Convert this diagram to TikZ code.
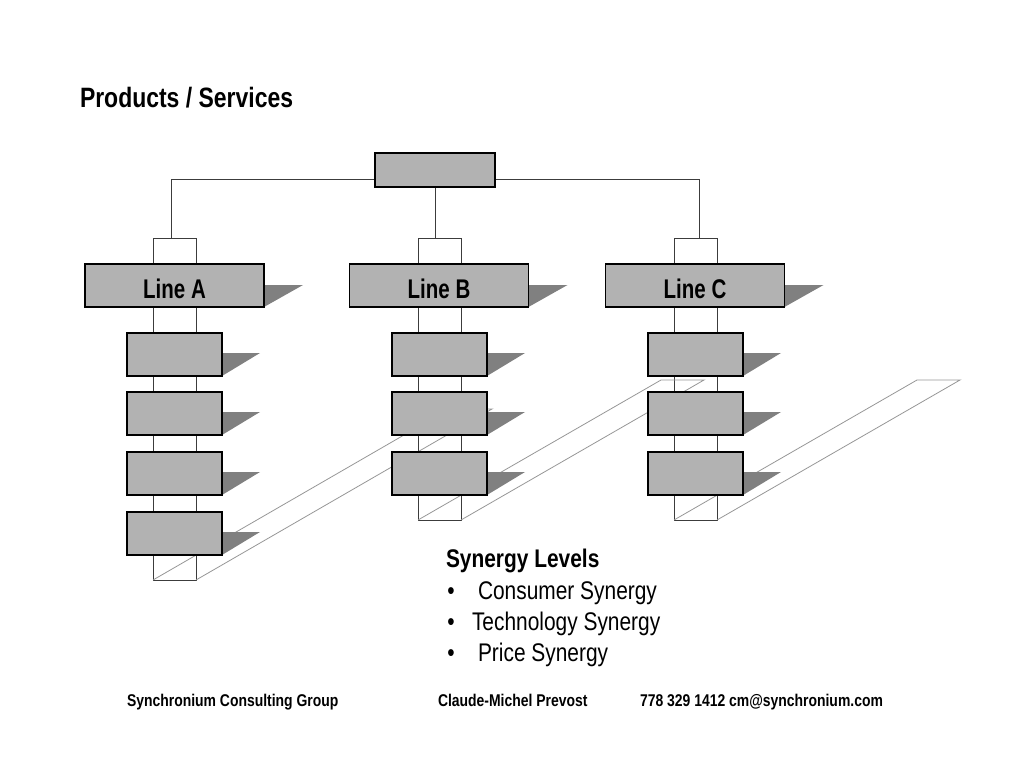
\documentclass[tikz,border=0pt]{standalone}
\usepackage{fontspec}
\setmainfont{Liberation Sans}[FakeStretch=0.82]
\newfontfamily\condensed{Liberation Sans}[FakeStretch=0.76]
\definecolor{boxgray}{RGB}{178,178,178}
\definecolor{shadegray}{RGB}{128,128,128}
\definecolor{tubegray}{RGB}{60,60,60}
\definecolor{paragray}{RGB}{150,150,150}
\pgfdeclarelayer{back}
\pgfdeclarelayer{shadelayer}
\pgfsetlayers{back,shadelayer,main}
\tikzset{
  box/.style={draw=black, line width=1.2pt, fill=boxgray, inner sep=0pt, outer sep=0pt},
  linebox/.style={box, minimum width=179pt, minimum height=43pt, text height=25pt, text depth=0pt,
    font=\condensed\fontsize{27}{27}\selectfont\bfseries},
  subbox/.style={box, minimum width=95pt, minimum height=43pt},
  tube/.style={draw=tubegray, line width=1pt, inner sep=0pt, outer sep=0pt, minimum width=43pt},
  para/.style={draw=paragray, line width=0.8pt},
  conn/.style={draw=tubegray, line width=1pt},
  shadefill/.style={fill=shadegray},
  txt/.style={anchor=base west, inner sep=0pt, outer sep=0pt, font=\fontsize{25.5}{25.5}\selectfont},
  btxt/.style={txt, font=\fontsize{25.5}{25.5}\selectfont\bfseries},
  foot/.style={txt, font=\fontsize{17}{17}\selectfont\bfseries}
}
\newcommand\boxshade[3]{\fill[shadefill] ([yshift=-#2]#1.north east) -- ++(#3,0) -- (#1.south east) -- cycle;}
\begin{document}
\begin{tikzpicture}[x=1pt,y=-1pt]
\useasboundingbox (0,0) rectangle (1024,768);

% title
\node[txt, font=\fontsize{28}{28}\selectfont\bfseries] (title) at (80,107) {Products / Services};

% top box
\node[box, minimum width=120pt, minimum height=34pt] (top) at (435,170) {};

% line boxes
\node[linebox] (lA) at (174.5,285.5) {Line A};
\node[linebox] (lB) at (439,285.5) {Line B};
\node[linebox] (lC) at (695,285.5) {Line C};

% sub boxes
\node[subbox] (a1) at (174.5,354.5) {};
\node[subbox] (a2) at (174.5,413.5) {};
\node[subbox] (a3) at (174.5,473.5) {};
\node[subbox] (a4) at (174.5,533.5) {};
\node[subbox] (b1) at (439.5,354.5) {};
\node[subbox] (b2) at (439.5,413.5) {};
\node[subbox] (b3) at (439.5,473.5) {};
\node[subbox] (c1) at (695.5,354.5) {};
\node[subbox] (c2) at (695.5,413.5) {};
\node[subbox] (c3) at (695.5,473.5) {};

\begin{pgfonlayer}{back}
  % tubes
  \node[tube, minimum height=342pt] (tA) at (174.5,409) {};
  \node[tube, minimum height=282pt] (tB) at (439.5,379) {};
  \node[tube, minimum height=282pt] (tC) at (695.5,379) {};
  % slanted parallelograms
  \draw[para] (tA.south west) -- ++(296,-171) -- ++(43,0) -- (tA.south east);
  \draw[para] (tB.south west) -- ++(243,-140) -- ++(43,0) -- (tB.south east);
  \draw[para] (tC.south west) -- ++(243,-140) -- ++(43,0) -- (tC.south east);
  % connectors
  \draw[conn] ([yshift=-9pt]top.west) -| ([xshift=-3.5pt]tA.north);
  \draw[conn] (top.south) -- (top.south |- tB.north);
  \draw[conn] ([yshift=-9pt]top.east) -| ([xshift=3.5pt]tC.north);
\end{pgfonlayer}

\begin{pgfonlayer}{shadelayer}
  \boxshade{lA}{21pt}{39}
  \boxshade{lB}{21pt}{39}
  \boxshade{lC}{21pt}{39}
  \boxshade{a1}{20pt}{38}
  \boxshade{a2}{20pt}{38}
  \boxshade{a3}{20pt}{38}
  \boxshade{a4}{20pt}{38}
  \boxshade{b1}{20pt}{38}
  \boxshade{b2}{20pt}{38}
  \boxshade{b3}{20pt}{38}
  \boxshade{c1}{20pt}{38}
  \boxshade{c2}{20pt}{38}
  \boxshade{c3}{20pt}{38}
\end{pgfonlayer}

% synergy list
\node[btxt] (syn) at (446,567) {Synergy Levels};
\node[txt, anchor=base] (d1) at (451,599) {•};
\node[txt] (s1) at (478,599) {Consumer Synergy};
\node[txt, anchor=base] (d2) at (451,630) {•};
\node[txt] (s2) at (472,630) {Technology Synergy};
\node[txt, anchor=base] (d3) at (451,661) {•};
\node[txt] (s3) at (478,661) {Price Synergy};

% footer
\node[foot] (f1) at (127,706) {Synchronium Consulting Group};
\node[foot] (f2) at (438,706) {Claude-Michel Prevost};
\node[foot] (f3) at (640,706) {778 329 1412 cm@synchronium.com};
\end{tikzpicture}
\end{document}
